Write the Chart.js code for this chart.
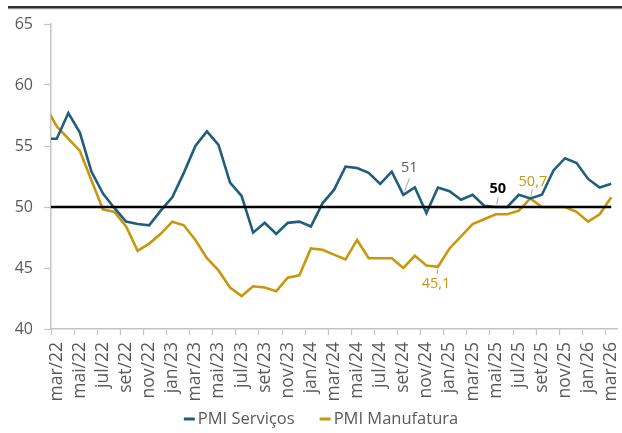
<!DOCTYPE html>
<html lang="pt-BR">
<head>
<meta charset="utf-8">
<title>PMI Serviços e Manufatura</title>
<script src="https://cdn.jsdelivr.net/npm/chart.js@4.4.1/dist/chart.umd.min.js"></script>
<style>
  html, body { margin: 0; padding: 0; background: #ffffff; }
  #quadro { width: 622px; height: 433px; position: relative; }
</style>
</head>
<body>
<div id="quadro"><canvas id="grafico" width="622" height="433"></canvas></div>
<script>
// Meses (o primeiro fica fora da janela do eixo e só dá continuidade às linhas)
const meses = [
  'fev/22', 'mar/22', 'abr/22', 'mai/22', 'jun/22', 'jul/22', 'ago/22', 'set/22', 'out/22', 'nov/22', 'dez/22',
  'jan/23', 'fev/23', 'mar/23', 'abr/23', 'mai/23', 'jun/23', 'jul/23', 'ago/23', 'set/23', 'out/23', 'nov/23', 'dez/23',
  'jan/24', 'fev/24', 'mar/24', 'abr/24', 'mai/24', 'jun/24', 'jul/24', 'ago/24', 'set/24', 'out/24', 'nov/24', 'dez/24',
  'jan/25', 'fev/25', 'mar/25', 'abr/25', 'mai/25', 'jun/25', 'jul/25', 'ago/25', 'set/25', 'out/25', 'nov/25', 'dez/25',
  'jan/26', 'fev/26', 'mar/26'
];

const pmiServicos = [
  55.6, 55.6, 57.7, 56.1, 52.9, 51.1, 49.9, 48.8, 48.6, 48.5, 49.7,
  50.8, 52.8, 55.0, 56.2, 55.1, 52.0, 50.9, 47.9, 48.7, 47.8, 48.7, 48.8,
  48.4, 50.3, 51.4, 53.3, 53.2, 52.8, 51.9, 52.9, 51, 51.6, 49.5, 51.6,
  51.3, 50.6, 51.0, 50.1, 50, 50.0, 51.0, 50.7, 51.0, 53.0, 54.0, 53.6,
  52.3, 51.6, 51.9
];

const pmiManufatura = [
  58.3, 56.6, 55.6, 54.6, 52.2, 49.8, 49.6, 48.4, 46.4, 47.0, 47.8,
  48.8, 48.5, 47.3, 45.8, 44.8, 43.4, 42.7, 43.5, 43.4, 43.1, 44.2, 44.4,
  46.6, 46.5, 46.1, 45.7, 47.3, 45.8, 45.8, 45.8, 45.0, 46.0, 45.2, 45.1,
  46.6, 47.6, 48.6, 49.0, 49.4, 49.4, 49.7, 50.7, 50.0, 50.0, 50.0, 49.6,
  48.8, 49.4, 50.8
];

// Linha de neutralidade do índice
const nivelNeutro = 50;

// Pontos com rótulo de valor
const destaques = [
  { serie: 0, mes: 'set/24' },
  { serie: 0, mes: 'mai/25' },
  { serie: 1, mes: 'ago/25' },
  { serie: 1, mes: 'dez/24' }
];

const corServicos = '#1f5f7d';
const corManufatura = '#c9970c';
const corTexto = '#595959';
const corEixo = '#c4c4c4';
const fonte = '"Open Sans", "Noto Sans", sans-serif';

const formatar = v => String(v).replace('.', ',');

// Filete escuro no topo do quadro
const filete = {
  id: 'filete',
  beforeDraw(chart) {
    const c = chart.ctx;
    c.save();
    c.fillStyle = '#ffffff';
    c.fillRect(0, 0, chart.width, chart.height);
    c.fillStyle = '#2e2e2e';
    c.fillRect(8, 6, chart.width - 8, 2.3);
    c.fillStyle = '#7a7a7a';
    c.fillRect(8, 8.3, chart.width - 8, 0.9);
    c.restore();
  }
};

// Rótulos de valor com linha de chamada
const rotulos = {
  id: 'rotulos',
  afterDatasetsDraw(chart, args, opts) {
    const c = chart.ctx;
    c.save();
    opts.itens.forEach((it, n) => {
      const d = destaques[n];
      const idx = meses.indexOf(d.mes);
      const ponto = chart.getDatasetMeta(d.serie).data[idx];
      const valor = chart.data.datasets[d.serie].data[idx];
      const px = ponto.x, py = ponto.y;
      c.strokeStyle = '#a6a6a6';
      c.lineWidth = 1;
      c.beginPath();
      c.moveTo(px + it.linha[0], py + it.linha[1]);
      c.lineTo(px + it.linha[2], py + it.linha[3]);
      c.stroke();
      c.fillStyle = it.cor;
      c.font = (it.negrito ? 'bold ' : '') + it.tamanho + 'px ' + fonte;
      c.textAlign = 'center';
      c.textBaseline = 'middle';
      c.fillText(formatar(valor), px + it.dx, py + it.dy);
    });
    c.restore();
  }
};

// Legenda compacta: traço curto colado ao nome da série
const legendaTracos = {
  id: 'legendaTracos',
  afterDraw(chart, args, opts) {
    const c = chart.ctx;
    const series = chart.data.datasets.filter(ds => ds.label);
    c.save();
    c.font = opts.tamanho + 'px ' + fonte;
    c.textBaseline = 'middle';
    c.textAlign = 'left';
    const larguras = series.map(ds => opts.traco + opts.folga + c.measureText(ds.label).width);
    const total = larguras.reduce((a, b) => a + b, 0) + opts.espaco * (series.length - 1);
    let x = opts.centro - total / 2;
    series.forEach((ds, i) => {
      c.fillStyle = ds.borderColor;
      c.fillRect(x, opts.y - 1.5, opts.traco, 3);
      c.fillStyle = corTexto;
      c.fillText(ds.label, x + opts.traco + opts.folga, opts.y);
      x += larguras[i] + opts.espaco;
    });
    c.restore();
  }
};

new Chart(document.getElementById('grafico'), {
  type: 'line',
  data: {
    labels: meses,
    datasets: [
      {
        label: 'PMI Serviços',
        data: pmiServicos,
        borderColor: corServicos,
        backgroundColor: corServicos,
        borderWidth: 2.6,
        pointRadius: 0,
        tension: 0,
        order: 2,
        clip: { left: 0, right: 6, top: 6, bottom: 6 }
      },
      {
        label: 'PMI Manufatura',
        data: pmiManufatura,
        borderColor: corManufatura,
        backgroundColor: corManufatura,
        borderWidth: 2.6,
        pointRadius: 0,
        tension: 0,
        order: 3,
        clip: { left: 0, right: 6, top: 6, bottom: 6 }
      },
      {
        data: [
          { x: meses[0], y: nivelNeutro },
          { x: meses[meses.length - 1], y: nivelNeutro }
        ],
        borderColor: '#000000',
        backgroundColor: '#000000',
        borderWidth: 2.6,
        pointRadius: 0,
        order: 1,
        clip: { left: 0, right: 6, top: 6, bottom: 6 }
      }
    ]
  },
  options: {
    responsive: false,
    animation: false,
    devicePixelRatio: 1,
    events: [],
    layout: { padding: { left: 0, right: 5, top: 24, bottom: 30 } },
    scales: {
      x: {
        type: 'category',
        min: 'mar/22',
        max: 'mar/26',
        offset: true,
        grid: {
          offset: true,
          drawOnChartArea: false,
          drawTicks: true,
          tickLength: 6,
          tickWidth: 1.2,
          tickColor: ctx => (ctx.index % 2 === 0 ? corEixo : 'rgba(0,0,0,0)')
        },
        border: { color: corEixo, width: 1.5 },
        ticks: {
          autoSkip: false,
          minRotation: 90,
          maxRotation: 90,
          padding: 7,
          color: corTexto,
          font: { family: fonte, size: 17.5 },
          callback(valor, i) { return i % 2 === 0 ? this.getLabelForValue(valor) : ''; }
        },
        afterFit(escala) {
          escala.height = 74;
          escala.paddingLeft = 0;
          escala.paddingRight = 0;
        }
      },
      y: {
        min: 40,
        max: 65,
        grid: {
          drawOnChartArea: false,
          drawTicks: true,
          tickLength: 7,
          tickWidth: 1.2,
          tickColor: corEixo
        },
        border: { color: corEixo, width: 1.5 },
        ticks: {
          stepSize: 5,
          padding: 11,
          color: corTexto,
          font: { family: fonte, size: 16 }
        },
        afterFit(escala) { escala.width = 51; }
      }
    },
    plugins: {
      tooltip: { enabled: false },
      legend: { display: false },
      legendaTracos: { centro: 321, y: 419, traco: 11, folga: 3, espaco: 25, tamanho: 16.5 },
      rotulos: {
        itens: [
          { dx: 6, dy: -26.5, linha: [6, -16.5, 1.3, -3.5], cor: corTexto, negrito: false, tamanho: 14.5 },
          { dx: 2, dy: -18, linha: [2.5, -9.5, 1, -2.5], cor: '#000000', negrito: true, tamanho: 14.5 },
          { dx: 2.5, dy: -17, linha: [2, -9, 0.5, -2], cor: corManufatura, negrito: false, tamanho: 14.5 },
          { dx: -2, dy: 17, linha: [0, 2, -1, 7.5], cor: corManufatura, negrito: false, tamanho: 14.5 }
        ]
      }
    }
  },
  plugins: [filete, rotulos, legendaTracos]
});
</script>
</body>
</html>
